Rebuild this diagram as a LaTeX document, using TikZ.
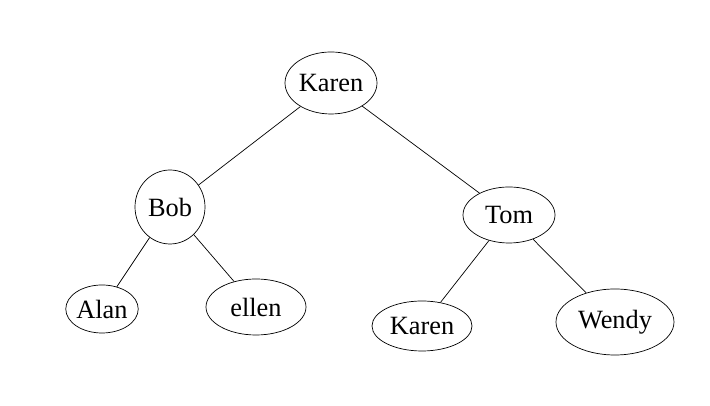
\documentclass[tikz,border=0pt]{standalone}
\usepackage{fontspec}
\setmainfont{Liberation Serif}
\usetikzlibrary{shapes.geometric}
\tikzset{person/.style = {draw, ellipse, inner sep=0pt}}
\begin{document}
\begin{tikzpicture} [font = \fontsize{15}{17}\selectfont]
\useasboundingbox (0,0) rectangle (14.2,8.12);
% people:
\node [person, minimum width=1.84cm, minimum height=1.24cm] (karen) at (6.62,6.46) {Karen};
\node [person, minimum width=1.4cm, minimum height=1.48cm] (bob) at (3.40,3.98) {Bob};
\node [person, minimum width=1.84cm, minimum height=1.12cm] (tom) at (10.18,3.82) {Tom};
\node [person, minimum width=1.28cm, minimum height=0.96cm] (alan) at (2.04,1.94) {Alan};
\node [person, minimum width=2.0cm, minimum height=1.12cm] (ellen) at (5.12,1.98) {ellen};
\node [person, minimum width=2.0cm, minimum height=1.0cm] (karenb) at (8.44,1.60) {Karen};
\node [person, minimum width=2.36cm, minimum height=1.32cm] (wendy) at (12.30,1.68) {Wendy};

% links:
\draw (karen) -- (bob);
\draw (karen) -- (tom);
\draw (bob) -- (alan);
\draw (bob) -- (ellen);
\draw (tom) -- (karenb);
\draw (tom) -- (wendy);
\end{tikzpicture}
\end{document}
